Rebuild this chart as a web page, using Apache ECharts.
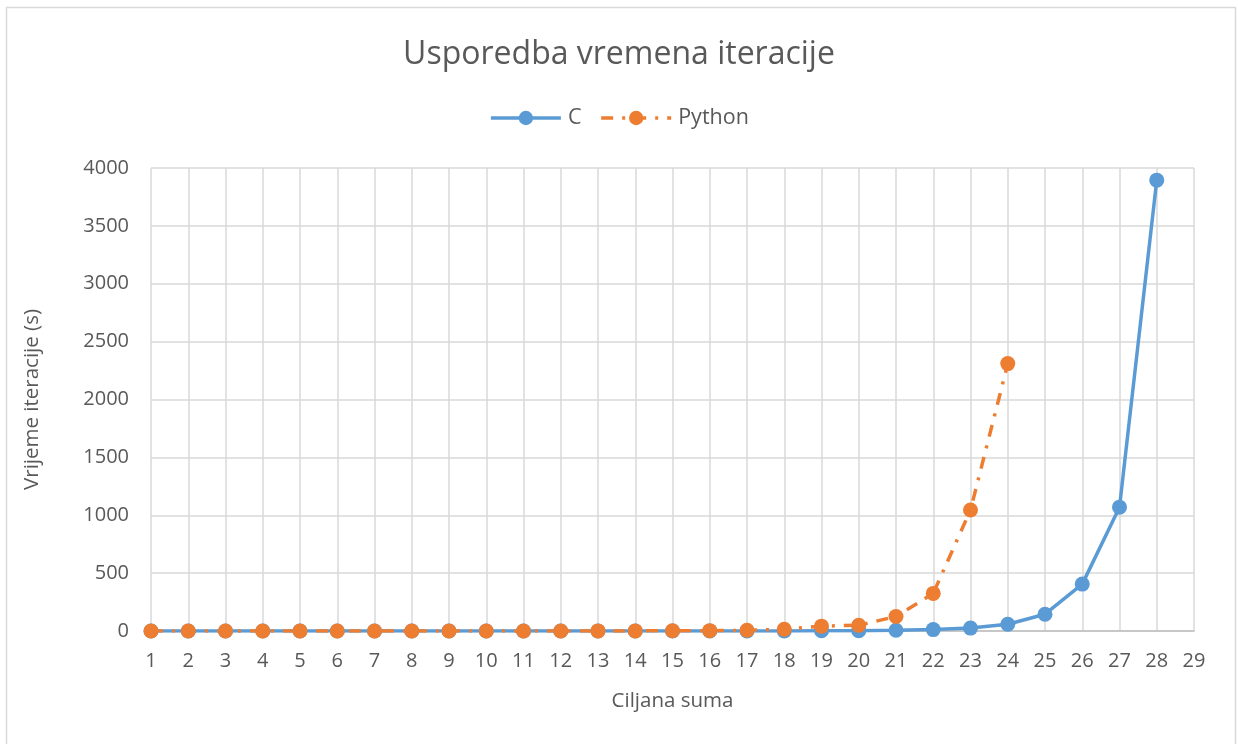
<!DOCTYPE html>
<html>
<head>
<meta charset="utf-8">
<script src="https://cdn.jsdelivr.net/npm/echarts@6/dist/echarts.min.js"></script>
<style>
html,body{margin:0;padding:0;background:#fff;}
#chart{width:1238px;height:744px;}
</style>
</head>
<body>
<div id="chart"></div>
<script>
const categories = ['1','2','3','4','5','6','7','8','9','10','11','12','13','14','15','16','17','18','19','20','21','22','23','24','25','26','27','28','29'];
const cValues = [0,0,0,0,0,0,0,0,0,0,0,0,0,0,0,0,0.5,1,2,3,6,12,25,58,145,405,1070,3895];
const pythonValues = [0,0,0,0,0,0,0,0,0,0,0,0,1,1,2,3,6,15,42,50,125,325,1045,2310];
const yTicks = {min:0, max:4000, interval:500};

const FONT = '"Open Sans", sans-serif';
const TXT = '#595959';
const chart = echarts.init(document.getElementById('chart'));
chart.setOption({
  backgroundColor:'#fff',
  animation:false,
  title:{
    text:'Usporedba vremena iteracije',
    left:'center', top:34,
    textStyle:{fontFamily:FONT, fontSize:32, fontWeight:'normal', color:TXT}
  },
  legend:{
    top:102, left:'center',
    itemWidth:70, itemHeight:18, itemGap:18,
    textStyle:{fontFamily:FONT, fontSize:21.5, color:TXT, padding:[0,0,0,2]},
    lineStyle:{width:3.5},
    data:['C','Python']
  },
  graphic:[{
    type:'rect', silent:true, z:-1,
    shape:{x:6.5, y:7.5, width:1229, height:745},
    style:{fill:'none', stroke:'#d9d9d9', lineWidth:1.5}
  }],
  grid:{left:151, right:44, top:168, bottom:113},
  xAxis:{
    type:'category', data:categories, boundaryGap:false,
    name:'Ciljana suma', nameLocation:'middle', nameGap:60,
    nameTextStyle:{fontFamily:FONT, fontSize:20.5, color:TXT},
    axisLine:{lineStyle:{color:'#bfbfbf', width:1.5}},
    axisTick:{show:false},
    axisLabel:{fontFamily:FONT, fontSize:20, color:TXT, margin:20, interval:0},
    splitLine:{show:true, lineStyle:{color:'#d9d9d9', width:1.5}}
  },
  yAxis:{
    type:'value', min:yTicks.min, max:yTicks.max, interval:yTicks.interval,
    name:'Vrijeme iteracije (s)', nameLocation:'middle', nameGap:108,
    nameTextStyle:{fontFamily:FONT, fontSize:20.5, color:TXT},
    axisLine:{show:false}, axisTick:{show:false},
    axisLabel:{fontFamily:FONT, fontSize:20, color:TXT, margin:22, formatter:function(v){return String(v);}},
    splitLine:{lineStyle:{color:'#d9d9d9', width:1.5}}
  },
  series:[
    {
      name:'C', type:'line', data:cValues,
      symbol:'circle', symbolSize:15, showAllSymbol:true,
      itemStyle:{color:'#5B9BD5'},
      lineStyle:{color:'#5B9BD5', width:3.5}
    },
    {
      name:'Python', type:'line', data:pythonValues,
      symbol:'circle', symbolSize:15, showAllSymbol:true,
      itemStyle:{color:'#ED7D31'},
      lineStyle:{color:'#ED7D31', width:3.5, type:[12,9,3,9]}
    }
  ]
});
</script>
</body>
</html>
